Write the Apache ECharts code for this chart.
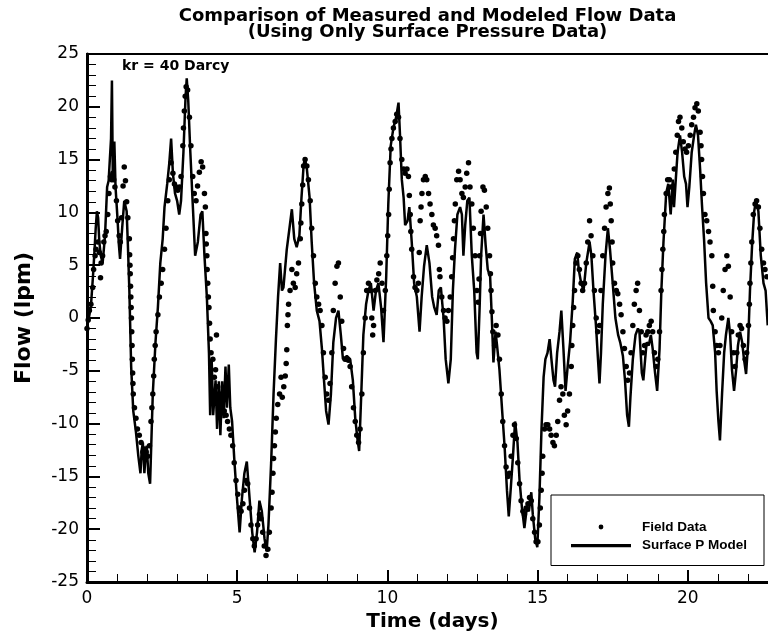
<!DOCTYPE html>
<html><head><meta charset="utf-8">
<script src="https://cdn.jsdelivr.net/npm/echarts@6.0.0/dist/echarts.min.js"></script>
<style>html,body{margin:0;padding:0;background:#fff}#chart{width:768px;height:638px}</style>
</head><body><div id="chart"></div>
<script>
const titleLines = ['Comparison of Measured and Modeled Flow Data', '(Using Only Surface Pressure Data)'];
const annotation = 'kr = 40 Darcy';
const seriesNames = ['Field Data', 'Surface P Model'];
const xName = 'Time (days)';
const yName = 'Flow (lpm)';
const xRange = [0, 25];
const yRange = [-25, 25];

// Field Data: [time (days), flow (lpm)]
const fieldData = [
[0.0,-1.0],[0.04,-0.2],[0.08,0.7],[0.13,1.3],[0.19,2.9],[0.22,4.6],[0.27,5.9],[0.3,6.5],[0.36,7.2],[0.41,6.2],[0.45,3.8],[0.47,5.2],[0.52,5.9],[0.56,7.2],[0.6,7.8],[0.64,8.2],[0.69,9.8],[0.73,11.8],[0.78,13.4],[0.82,13.1],[0.86,13.7],[0.89,13.1],[0.93,12.4],[0.98,11.1],
[1.02,9.2],[1.07,7.8],[1.11,7.2],[1.15,9.5],[1.2,12.5],[1.24,14.3],[1.28,13.0],[1.32,11.0],[1.36,9.5],[1.41,7.5],[1.42,6.0],[1.43,5.0],[1.44,4.2],[1.45,3.0],[1.46,2.0],[1.47,1.0],[1.48,0],[1.49,-1.3],[1.5,-2.6],[1.51,-3.9],[1.52,-5.2],[1.53,-6.2],[1.54,-7.2],[1.58,-8.5],[1.63,-9.5],[1.68,-10.5],[1.74,-11.1],[1.8,-11.8],[1.86,-12.7],[1.91,-12.4],[1.97,-12.7],
[2.02,-13.1],[2.08,-12.1],[2.13,-9.8],[2.16,-8.5],[2.19,-7.2],[2.22,-5.5],[2.24,-3.9],[2.27,-2.6],[2.3,-1.3],[2.36,0.3],[2.41,2.0],[2.47,3.3],[2.52,4.6],[2.58,6.5],[2.63,8.5],[2.69,11.1],[2.74,13.1],[2.8,14.7],[2.86,13.7],[2.91,12.7],[2.97,12.4],
[3.02,12.1],[3.08,12.4],[3.13,13.4],[3.19,16.3],[3.21,18.0],[3.24,19.6],[3.27,21.0],[3.3,21.9],[3.35,21.6],[3.41,19.0],[3.46,16.3],[3.52,13.4],[3.57,11.8],[3.63,11.1],[3.68,12.5],[3.74,13.8],[3.8,14.8],[3.85,14.3],[3.91,11.8],[3.94,10.5],[3.96,8.0],[3.97,7.0],[3.99,5.9],
[4.0,4.6],[4.02,3.3],[4.04,2.0],[4.06,1.0],[4.08,-0.5],[4.1,-2.0],[4.13,-3.3],[4.19,-3.9],[4.24,-5.6],[4.28,-4.9],[4.31,-1.6],[4.35,-6.5],[4.41,-7.2],[4.46,-7.8],[4.52,-7.2],[4.57,-8.8],[4.63,-9.2],[4.68,-9.8],[4.74,-10.5],[4.79,-11.1],[4.85,-12.1],[4.9,-13.7],[4.96,-15.4],
[5.02,-16.7],[5.07,-18.0],[5.13,-18.3],[5.19,-17.6],[5.24,-16.3],[5.3,-15.4],[5.35,-15.7],[5.41,-18.0],[5.46,-19.6],[5.52,-20.9],[5.57,-21.6],[5.63,-20.9],[5.68,-19.6],[5.74,-18.6],[5.79,-19.0],[5.85,-20.3],[5.9,-21.6],[5.96,-22.5],
[6.02,-21.9],[6.07,-20.3],[6.13,-18.0],[6.16,-16.5],[6.19,-14.7],[6.21,-13.3],[6.24,-12.1],[6.27,-10.8],[6.3,-9.5],[6.35,-8.2],[6.41,-7.2],[6.46,-5.6],[6.5,-7.5],[6.55,-6.5],[6.6,-5.5],[6.63,-4.3],[6.65,-3.0],[6.67,-0.7],[6.69,0.3],[6.71,1.3],[6.76,2.6],[6.82,4.6],[6.87,3.3],[6.93,2.9],[6.98,4.2],
[7.04,5.2],[7.1,7.5],[7.12,9.0],[7.15,10.8],[7.18,12.6],[7.21,14.4],[7.26,15.0],[7.32,14.4],[7.37,13.1],[7.43,11.1],[7.48,8.5],[7.54,5.9],[7.6,3.3],[7.65,2.0],[7.71,1.3],[7.76,0.7],[7.82,-0.7],[7.87,-3.3],[7.93,-5.6],[7.98,-7.2],
[8.04,-7.8],[8.09,-6.2],[8.15,-3.3],[8.2,0.7],[8.26,3.3],[8.32,4.9],[8.37,5.2],[8.43,2.0],[8.48,-0.3],[8.54,-2.9],[8.59,-3.9],[8.65,-3.9],[8.7,-4.0],[8.76,-4.6],[8.81,-6.5],[8.87,-8.5],[8.93,-9.8],[8.98,-11.1],
[9.04,-11.8],[9.09,-10.5],[9.15,-7.2],[9.2,-3.3],[9.26,0],[9.31,2.6],[9.37,3.3],[9.43,2.6],[9.48,0],[9.51,-1.6],[9.54,-0.7],[9.6,2.6],[9.65,3.6],[9.71,4.2],[9.76,5.2],[9.82,3.3],[9.87,0.7],[9.93,2.6],[9.98,5.9],
[10.01,7.8],[10.04,9.8],[10.06,12.2],[10.09,14.7],[10.12,16.0],[10.15,17.0],[10.2,18.0],[10.26,18.6],[10.31,19.3],[10.37,19.0],[10.42,17.0],[10.48,15.0],[10.54,14.1],[10.59,13.7],[10.65,14.1],[10.7,13.4],[10.73,11.6],[10.76,9.8],[10.78,8.2],[10.81,6.5],[10.87,3.9],[10.92,2.9],[10.98,2.6],
[11.03,3.3],[11.06,6.2],[11.09,9.2],[11.12,10.5],[11.15,11.8],[11.2,13.1],[11.26,13.4],[11.31,13.1],[11.37,11.8],[11.42,10.8],[11.48,9.8],[11.53,8.8],[11.59,8.5],[11.64,7.8],[11.7,6.9],[11.73,4.6],[11.75,3.9],[11.81,2.0],[11.87,0.7],[11.92,0],[11.98,-0.3],
[12.03,0.7],[12.09,2.0],[12.14,3.9],[12.17,5.7],[12.2,7.5],[12.23,9.2],[12.26,10.8],[12.31,13.1],[12.37,13.9],[12.42,13.1],[12.48,11.8],[12.53,11.4],[12.59,12.4],[12.64,13.7],[12.7,14.7],[12.75,12.4],[12.81,10.8],[12.86,8.5],[12.92,5.9],[12.98,2.6],
[13.02,1.5],[13.05,3.7],[13.07,5.9],[13.1,8.0],[13.12,10.1],[13.18,12.4],[13.23,12.1],[13.29,10.5],[13.34,8.5],[13.4,5.9],[13.43,4.2],[13.45,2.6],[13.48,0.6],[13.51,-1.3],[13.57,-2.6],[13.62,-0.7],[13.68,-1.6],[13.73,-3.9],[13.79,-7.2],[13.84,-9.8],[13.9,-12.1],[13.95,-14.1],
[14.01,-15.0],[14.06,-14.7],[14.12,-13.1],[14.18,-11.1],[14.23,-10.1],[14.29,-11.4],[14.34,-13.7],[14.4,-15.7],[14.45,-17.3],[14.51,-18.3],[14.56,-18.6],[14.62,-18.0],[14.68,-17.6],[14.73,-17.0],[14.79,-17.3],[14.84,-19.0],[14.9,-20.3],[14.95,-21.2],
[15.01,-21.2],[15.06,-19.6],[15.09,-18.0],[15.12,-16.3],[15.15,-14.7],[15.17,-13.1],[15.23,-10.5],[15.28,-10.1],[15.34,-10.1],[15.4,-10.5],[15.45,-11.1],[15.51,-11.8],[15.56,-12.1],[15.62,-11.1],[15.67,-9.8],[15.73,-7.8],[15.78,-6.5],[15.84,-7.2],[15.89,-9.2],[15.95,-10.1],
[16.0,-8.8],[16.06,-7.2],[16.12,-4.6],[16.14,-2.6],[16.17,-0.7],[16.2,1.0],[16.23,2.6],[16.28,5.2],[16.34,5.9],[16.39,4.6],[16.45,3.3],[16.5,2.6],[16.56,3.3],[16.62,5.2],[16.67,7.2],[16.73,9.2],[16.78,7.8],[16.84,5.9],[16.89,2.6],[16.95,0],
[17.0,-1.3],[17.06,-0.7],[17.11,2.6],[17.17,5.9],[17.23,8.5],[17.28,10.5],[17.34,11.8],[17.39,12.3],[17.42,10.8],[17.45,9.2],[17.48,7.2],[17.5,5.2],[17.56,3.3],[17.62,2.6],[17.67,2.3],[17.73,1.3],[17.78,0.3],[17.84,-1.3],[17.89,-2.9],[17.95,-4.6],
[18.0,-5.9],[18.06,-5.2],[18.11,-3.3],[18.17,-0.7],[18.22,1.3],[18.28,2.6],[18.33,3.3],[18.39,0.7],[18.45,-1.3],[18.5,-3.3],[18.56,-2.6],[18.61,-1.6],[18.67,-1.3],[18.72,-0.7],[18.78,-0.3],[18.83,-1.3],[18.89,-3.3],[18.95,-4.6],
[19.0,-3.9],[19.06,-1.3],[19.11,2.6],[19.14,4.6],[19.17,6.5],[19.2,8.2],[19.22,9.8],[19.28,11.8],[19.33,13.1],[19.39,13.1],[19.44,12.4],[19.5,12.4],[19.55,14.1],[19.6,15.7],[19.65,17.3],[19.69,18.6],[19.74,19.0],[19.8,18.0],[19.85,16.7],[19.91,16.0],[19.96,15.7],
[20.02,16.3],[20.08,17.3],[20.13,18.3],[20.19,19.0],[20.24,19.9],[20.3,20.3],[20.35,19.6],[20.41,17.6],[20.44,16.3],[20.46,15.0],[20.49,13.4],[20.52,11.8],[20.57,9.8],[20.63,9.2],[20.69,8.2],[20.74,7.2],[20.8,5.9],[20.83,3.0],[20.85,0.7],[20.91,-1.3],[20.96,-2.6],
[21.02,-3.3],[21.07,-2.6],[21.13,0],[21.18,2.6],[21.24,4.6],[21.3,5.9],[21.35,4.9],[21.41,2.0],[21.46,-1.3],[21.52,-3.3],[21.57,-4.6],[21.63,-3.3],[21.68,-1.6],[21.74,-0.7],[21.79,-1.0],[21.85,-2.6],[21.91,-3.9],[21.96,-3.3],
[22.02,-0.7],[22.05,1.3],[22.07,3.3],[22.1,5.2],[22.13,7.2],[22.18,9.8],[22.24,10.8],[22.29,11.1],[22.35,10.5],[22.4,8.5],[22.46,6.5],[22.52,5.2],[22.57,4.6],[22.63,3.9]
];

// Surface P Model: [time (days), flow (lpm)]
const modelData = [
[0.0,-0.8],[0.05,-0.2],[0.13,1.1],[0.2,4.0],[0.24,5.9],[0.29,8.5],[0.33,10.1],[0.37,9.5],[0.41,7.2],[0.46,5.9],[0.52,5.2],[0.56,6.5],[0.6,7.8],[0.67,12.4],[0.72,13.0],[0.76,15.0],[0.8,17.0],[0.83,22.5],[0.86,13.0],[0.91,16.7],[0.95,12.4],
[1.02,9.2],[1.06,7.0],[1.1,5.6],[1.17,8.5],[1.24,11.1],[1.28,11.0],[1.32,10.1],[1.36,7.0],[1.41,2.6],[1.47,-4.6],[1.54,-8.8],[1.63,-10.8],[1.71,-13.1],[1.78,-14.7],[1.82,-12.5],[1.86,-11.8],[1.91,-14.7],[1.95,-13.0],[1.99,-12.1],
[2.04,-14.7],[2.1,-15.7],[2.19,-7.2],[2.28,-2.3],[2.36,1.0],[2.44,5.2],[2.52,7.5],[2.58,10.5],[2.67,12.7],[2.74,14.7],[2.8,17.0],[2.86,13.7],[2.93,11.8],
[3.0,11.1],[3.07,9.8],[3.13,11.1],[3.21,15.7],[3.28,20.9],[3.32,22.7],[3.37,20.6],[3.44,15.7],[3.52,10.8],[3.6,5.9],[3.69,7.2],[3.78,9.8],[3.84,10.1],[3.91,5.9],[3.99,2.0],
[4.06,-3.3],[4.1,-9.2],[4.15,-3.9],[4.2,-9.2],[4.28,-5.9],[4.33,-10.5],[4.39,-6.0],[4.44,-11.1],[4.5,-6.0],[4.55,-9.5],[4.61,-4.6],[4.66,-8.5],[4.72,-4.4],[4.77,-8.5],[4.83,-9.8],[4.91,-13.7],[4.99,-17.0],
[5.08,-20.3],[5.16,-17.0],[5.24,-14.7],[5.32,-13.6],[5.41,-17.0],[5.5,-20.3],[5.58,-22.2],[5.66,-20.3],[5.74,-17.3],[5.82,-18.3],[5.91,-20.9],[5.98,-22.1],
[6.04,-19.6],[6.13,-13.7],[6.21,-7.2],[6.29,-2.0],[6.36,2.0],[6.43,5.2],[6.49,2.6],[6.54,2.9],[6.65,6.5],[6.74,8.5],[6.82,10.3],[6.9,7.5],[6.98,6.7],
[7.07,7.8],[7.14,11.4],[7.21,14.4],[7.25,15.2],[7.32,14.1],[7.41,11.4],[7.48,7.2],[7.56,3.3],[7.65,0.7],[7.74,-0.3],[7.82,-2.9],[7.89,-5.9],[7.96,-8.8],
[8.04,-10.1],[8.12,-7.2],[8.2,-2.3],[8.29,0],[8.37,0.7],[8.45,-1.6],[8.52,-3.9],[8.65,-3.6],[8.76,-3.9],[8.85,-5.9],[8.93,-9.5],
[9.0,-11.4],[9.06,-12.6],[9.13,-7.2],[9.2,-1.6],[9.29,1.3],[9.37,2.6],[9.45,3.3],[9.54,0.7],[9.62,2.6],[9.7,3.3],[9.79,1.0],[9.87,-2.3],[9.96,3.9],
[10.03,10.8],[10.11,16.3],[10.2,18.0],[10.29,19.0],[10.37,20.4],[10.42,17.3],[10.48,13.1],[10.54,11.4],[10.59,8.8],[10.67,9.2],[10.73,10.5],[10.81,7.2],[10.89,3.3],[10.98,2.0],
[11.07,-1.3],[11.14,2.0],[11.22,4.9],[11.31,6.9],[11.4,5.2],[11.49,2.0],[11.56,1.0],[11.64,0.3],[11.71,2.6],[11.78,2.9],[11.87,0],[11.94,-3.9],
[12.03,-6.2],[12.11,-3.9],[12.18,2.6],[12.25,6.5],[12.33,9.8],[12.42,10.5],[12.48,9.8],[12.53,5.9],[12.59,8.8],[12.66,11.1],[12.73,11.4],[12.81,5.9],[12.89,2.6],[12.97,-3.3],
[13.01,-3.9],[13.07,1.0],[13.12,5.9],[13.2,9.8],[13.27,6.9],[13.34,4.6],[13.42,3.9],[13.48,-0.3],[13.53,-4.2],[13.6,-1.3],[13.65,-2.6],[13.73,-4.9],[13.82,-8.8],[13.9,-12.1],[13.98,-16.3],
[14.04,-18.8],[14.11,-16.0],[14.18,-13.1],[14.25,-9.8],[14.33,-11.8],[14.4,-15.4],[14.48,-18.0],[14.56,-19.9],[14.64,-18.0],[14.71,-18.3],[14.79,-16.5],[14.84,-18.6],[14.92,-20.9],[14.99,-21.7],
[15.06,-17.0],[15.13,-10.5],[15.2,-5.6],[15.26,-3.9],[15.33,-3.3],[15.4,-2.0],[15.46,-3.9],[15.53,-5.9],[15.58,-6.5],[15.65,-3.3],[15.73,-1.3],[15.79,0.7],[15.86,-2.9],[15.93,-6.9],
[16.0,-4.6],[16.08,-2.3],[16.17,1.6],[16.24,5.6],[16.32,6.2],[16.37,4.6],[16.45,3.3],[16.53,2.6],[16.62,5.2],[16.73,7.2],[16.79,5.9],[16.86,2.6],[16.95,-1.0],
[17.01,-3.9],[17.06,-6.2],[17.11,-3.3],[17.17,1.3],[17.26,5.9],[17.34,8.5],[17.41,6.5],[17.5,3.3],[17.59,0],[17.68,-1.6],[17.75,-2.3],[17.84,-3.6],[17.91,-5.9],[17.98,-9.2],
[18.04,-10.3],[18.09,-7.5],[18.17,-3.9],[18.26,-1.6],[18.34,-1.0],[18.39,-1.3],[18.47,-5.2],[18.52,-5.9],[18.58,-3.9],[18.63,-2.3],[18.7,-2.6],[18.77,-1.6],[18.83,-2.9],[18.91,-5.2],[18.98,-6.9],
[19.06,-2.9],[19.12,2.6],[19.19,7.2],[19.28,11.8],[19.35,12.7],[19.43,9.8],[19.5,13.1],[19.54,10.5],[19.6,13.1],[19.66,15.7],[19.74,17.3],[19.81,15.7],[19.88,13.4],[19.94,12.7],[19.99,10.5],
[20.05,12.4],[20.13,15.7],[20.21,17.3],[20.27,18.3],[20.34,17.3],[20.41,14.1],[20.47,10.8],[20.54,7.5],[20.61,3.3],[20.69,0],[20.76,-0.3],[20.83,-0.7],[20.91,-3.3],[20.96,-6.9],
[21.02,-9.8],[21.07,-11.6],[21.14,-7.2],[21.21,-3.3],[21.27,-1.6],[21.35,0],[21.41,-1.6],[21.47,-4.9],[21.54,-6.9],[21.61,-4.9],[21.67,-2.6],[21.74,-1.3],[21.81,-2.3],[21.87,-3.9],[21.94,-5.3],
[22.01,-2.3],[22.07,2.6],[22.14,6.9],[22.21,10.1],[22.27,11.1],[22.35,10.1],[22.43,5.9],[22.52,3.3],[22.59,2.6],[22.66,-0.7]
];

const FONT = '"DejaVu Sans", sans-serif';
const LEGEND_FONT = '"Liberation Sans", Arial, sans-serif';
const DOT_ICON = 'path://M0,0M60,12M27.6,6a2.4,2.4 0 1,0 4.8,0a2.4,2.4 0 1,0 -4.8,0Z';
const LINE_ICON = 'path://M0,0M60,12M0,4.35L60,4.35L60,7.65L0,7.65Z';

const chart = echarts.init(document.getElementById('chart'), null, {renderer: 'canvas'});
chart.setOption({
  animation: false,
  backgroundColor: '#fff',
  grid: {left: 87, top: 54, right: -70, bottom: 56, show: true, borderColor: '#000', borderWidth: 2,
         containLabel: false, outerBoundsMode: 'none'},
  xAxis: {
    type: 'value', min: xRange[0], max: xRange[1], interval: 5,
    name: xName, nameLocation: 'middle', nameGap: 24,
    nameTextStyle: {fontFamily: FONT, fontWeight: 'bold', fontSize: 20, color: '#000', padding: [0, 60, 0, 0]},
    axisLine: {show: true, onZero: false, lineStyle: {color: '#000', width: 3}},
    axisTick: {show: true, inside: true, length: 12, lineStyle: {color: '#000', width: 2}},
    minorTick: {show: true, splitNumber: 5, length: 8, lineStyle: {color: '#000', width: 1}},
    axisLabel: {fontFamily: FONT, fontSize: 17, color: '#000', margin: 8},
    splitLine: {show: false}, minorSplitLine: {show: false}
  },
  yAxis: {
    type: 'value', min: yRange[0], max: yRange[1], interval: 5,
    name: yName, nameLocation: 'middle', nameGap: 52, nameRotate: 90,
    nameTextStyle: {fontFamily: FONT, fontWeight: 'bold', fontSize: 22, color: '#000'},
    axisLine: {show: true, onZero: false, lineStyle: {color: '#000', width: 3}},
    axisTick: {show: true, inside: true, length: 13, lineStyle: {color: '#000', width: 2}},
    minorTick: {show: true, splitNumber: 5, length: 9, lineStyle: {color: '#000', width: 1}},
    axisLabel: {fontFamily: FONT, fontSize: 17, color: '#000', margin: 8},
    splitLine: {show: false}, minorSplitLine: {show: false}
  },
  legend: {
    left: 571, top: 520, orient: 'vertical', itemWidth: 60, itemHeight: 12, itemGap: 4.7, padding: 0, z: 20,
    selectedMode: false,
    itemStyle: {borderWidth: 0},
    textStyle: {fontFamily: LEGEND_FONT, fontWeight: 'bold', fontSize: 13.5, color: '#000', lineHeight: 12, padding: [0, 0, 0, 6]},
    data: [{name: seriesNames[0], icon: DOT_ICON}, {name: seriesNames[1], icon: LINE_ICON}]
  },
  graphic: [
    {type: 'rect', z: 10, shape: {x: 551, y: 495, width: 213, height: 70.5},
     style: {fill: '#fff', stroke: '#000', lineWidth: 1}},
    {type: 'text', z: 10, x: 427.5, y: 16.5,
     style: {text: titleLines[0], fontFamily: 'DejaVu Sans', fontWeight: 'bold', fontSize: 18, fill: '#000',
             align: 'center', verticalAlign: 'middle', textAlign: 'center', textVerticalAlign: 'middle'}},
    {type: 'text', z: 10, x: 427.5, y: 32,
     style: {text: titleLines[1], fontFamily: 'DejaVu Sans', fontWeight: 'bold', fontSize: 18, fill: '#000',
             align: 'center', verticalAlign: 'middle', textAlign: 'center', textVerticalAlign: 'middle'}},
    {type: 'text', z: 10, x: 122, y: 66.7,
     style: {text: annotation, fontFamily: 'DejaVu Sans', fontWeight: 'bold', fontSize: 14, fill: '#000',
             align: 'left', verticalAlign: 'middle', textAlign: 'left', textVerticalAlign: 'middle'}}
  ],
  series: [
    {name: seriesNames[0], type: 'scatter', data: fieldData, symbol: 'circle', symbolSize: 5.5,
     itemStyle: {color: '#000', opacity: 1}, z: 3, silent: true},
    {name: seriesNames[1], type: 'line', data: modelData, symbol: 'none', showSymbol: false,
     lineStyle: {color: '#000', width: 2.5}, itemStyle: {color: '#000'}, z: 2, silent: true}
  ]
});
</script></body></html>
